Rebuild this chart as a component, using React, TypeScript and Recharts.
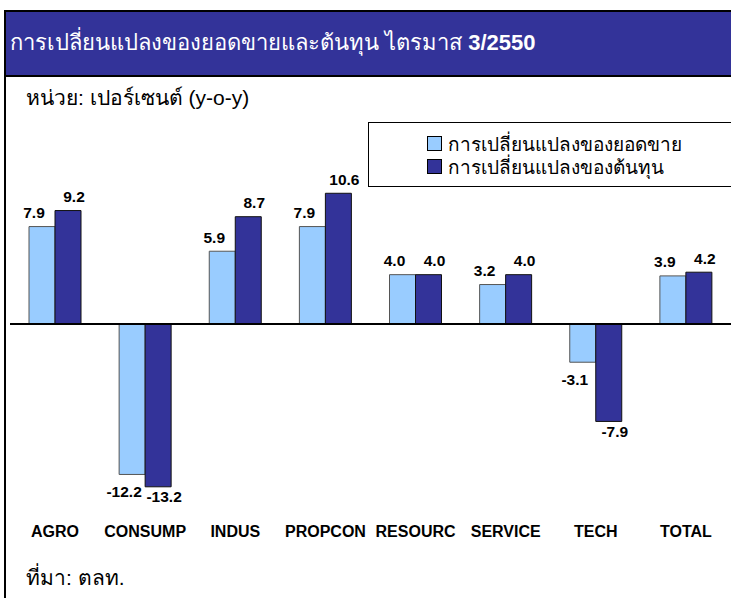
import React from 'react';
import { BarChart, Bar, XAxis, YAxis, ReferenceLine, LabelList } from 'recharts';

const categories = ['AGRO', 'CONSUMP', 'INDUS', 'PROPCON', 'RESOURC', 'SERVICE', 'TECH', 'TOTAL'];
const salesChange = [7.9, -12.2, 5.9, 7.9, 4.0, 3.2, -3.1, 3.9];
const costChange = [9.2, -13.2, 8.7, 10.6, 4.0, 4.0, -7.9, 4.2];
const seriesNames = ['การเปลี่ยนแปลงของยอดขาย', 'การเปลี่ยนแปลงของต้นทุน'];

const LIGHT = '#99ccff';
const DARK = '#333399';
const FONT = 'Arial, "Liberation Sans", sans-serif';

const data = categories.map((name, i) => ({
  name,
  sales: salesChange[i],
  cost: costChange[i],
}));

function makeLabel(light: boolean) {
  return (props: any) => {
    const { x, y, width, height, value } = props;
    const neg = value < 0;
    const cx = x + width / 2 + (light ? -8 : 6);
    const top = Math.min(y, y + height);
    const bottom = Math.max(y, y + height);
    const cy = neg ? bottom + (light ? 17 : 10) : top - 14;
    return (
      <text
        x={cx}
        y={cy}
        textAnchor="middle"
        dominantBaseline="central"
        fontFamily={FONT}
        fontWeight="bold"
        fontSize={15.5}
        fill="#000"
      >
        {value.toFixed(1)}
      </text>
    );
  };
}

function LegendBox() {
  const colors = [LIGHT, DARK];
  return (
    <div
      style={{
        position: 'absolute',
        left: 368,
        top: 122,
        width: 380,
        height: 65,
        border: '1px solid #000',
        background: '#fff',
        boxSizing: 'border-box',
        paddingTop: 9,
        paddingLeft: 58,
      }}
    >
      {seriesNames.map((n, i) => (
        <div
          key={n}
          style={{ display: 'flex', alignItems: 'center', height: 23, fontFamily: FONT, fontSize: 19, color: '#000', whiteSpace: 'nowrap' }}
        >
          <span
            style={{
              display: 'inline-block',
              width: 13,
              height: 13,
              background: colors[i],
              border: '1px solid #000',
              marginRight: 6,
            }}
          />
          {n}
        </div>
      ))}
    </div>
  );
}

export default function App() {
  return (
    <div style={{ position: 'absolute', left: 0, top: 0, width: 731, height: 598, background: '#fff', overflow: 'hidden' }}>
      <div
        style={{
          position: 'absolute',
          left: 4,
          top: 10,
          width: 740,
          height: 600,
          borderLeft: '2px solid #000',
          borderTop: '2px solid #000',
          boxSizing: 'border-box',
        }}
      />
      <div style={{ position: 'absolute', left: 0, top: 0 }}>
        <BarChart
          width={731}
          height={598}
          data={data}
          margin={{ top: 139, right: 0, bottom: 59, left: 10 }}
          barGap={0}
          barSize={26}
        >
          <XAxis
            dataKey="name"
            axisLine={false}
            tickLine={false}
            tickMargin={11}
            interval={0}
            tick={{ fontFamily: FONT, fontSize: 16, fontWeight: 'bold', fill: '#000' }}
          />
          <YAxis hide domain={[-15, 15]} />
          <ReferenceLine y={0} stroke="#000" strokeWidth={2} />
          <Bar dataKey="sales" name={seriesNames[0]} fill={LIGHT} stroke="#555" strokeWidth={1} isAnimationActive={false}>
            <LabelList dataKey="sales" content={makeLabel(true)} />
          </Bar>
          <Bar dataKey="cost" name={seriesNames[1]} fill={DARK} stroke="#111" strokeWidth={1} isAnimationActive={false}>
            <LabelList dataKey="cost" content={makeLabel(false)} />
          </Bar>
        </BarChart>
      </div>
      <LegendBox />
      <div
        style={{
          position: 'absolute',
          left: 4,
          top: 10,
          width: 727,
          height: 67,
          background: DARK,
          borderTop: '2px solid #000',
          borderLeft: '2px solid #000',
          borderBottom: '2px solid #000',
          boxSizing: 'border-box',
          display: 'flex',
          alignItems: 'center',
          paddingLeft: 4,
          paddingBottom: 2,
          color: '#fff',
          fontFamily: FONT,
          fontSize: 22,
          whiteSpace: 'nowrap',
        }}
      >
        การเปลี่ยนแปลงของยอดขายและต้นทุน ไตรมาส&nbsp;<b>3/2550</b>
      </div>
      <div style={{ position: 'absolute', left: 26, top: 81, fontFamily: FONT, fontSize: 21, color: '#000', whiteSpace: 'nowrap' }}>
        หน่วย: เปอร์เซนต์ (y-o-y)
      </div>
      <div style={{ position: 'absolute', left: 26, top: 561, fontFamily: FONT, fontSize: 21, color: '#000', whiteSpace: 'nowrap' }}>
        ที่มา: ตลท.
      </div>
    </div>
  );
}
